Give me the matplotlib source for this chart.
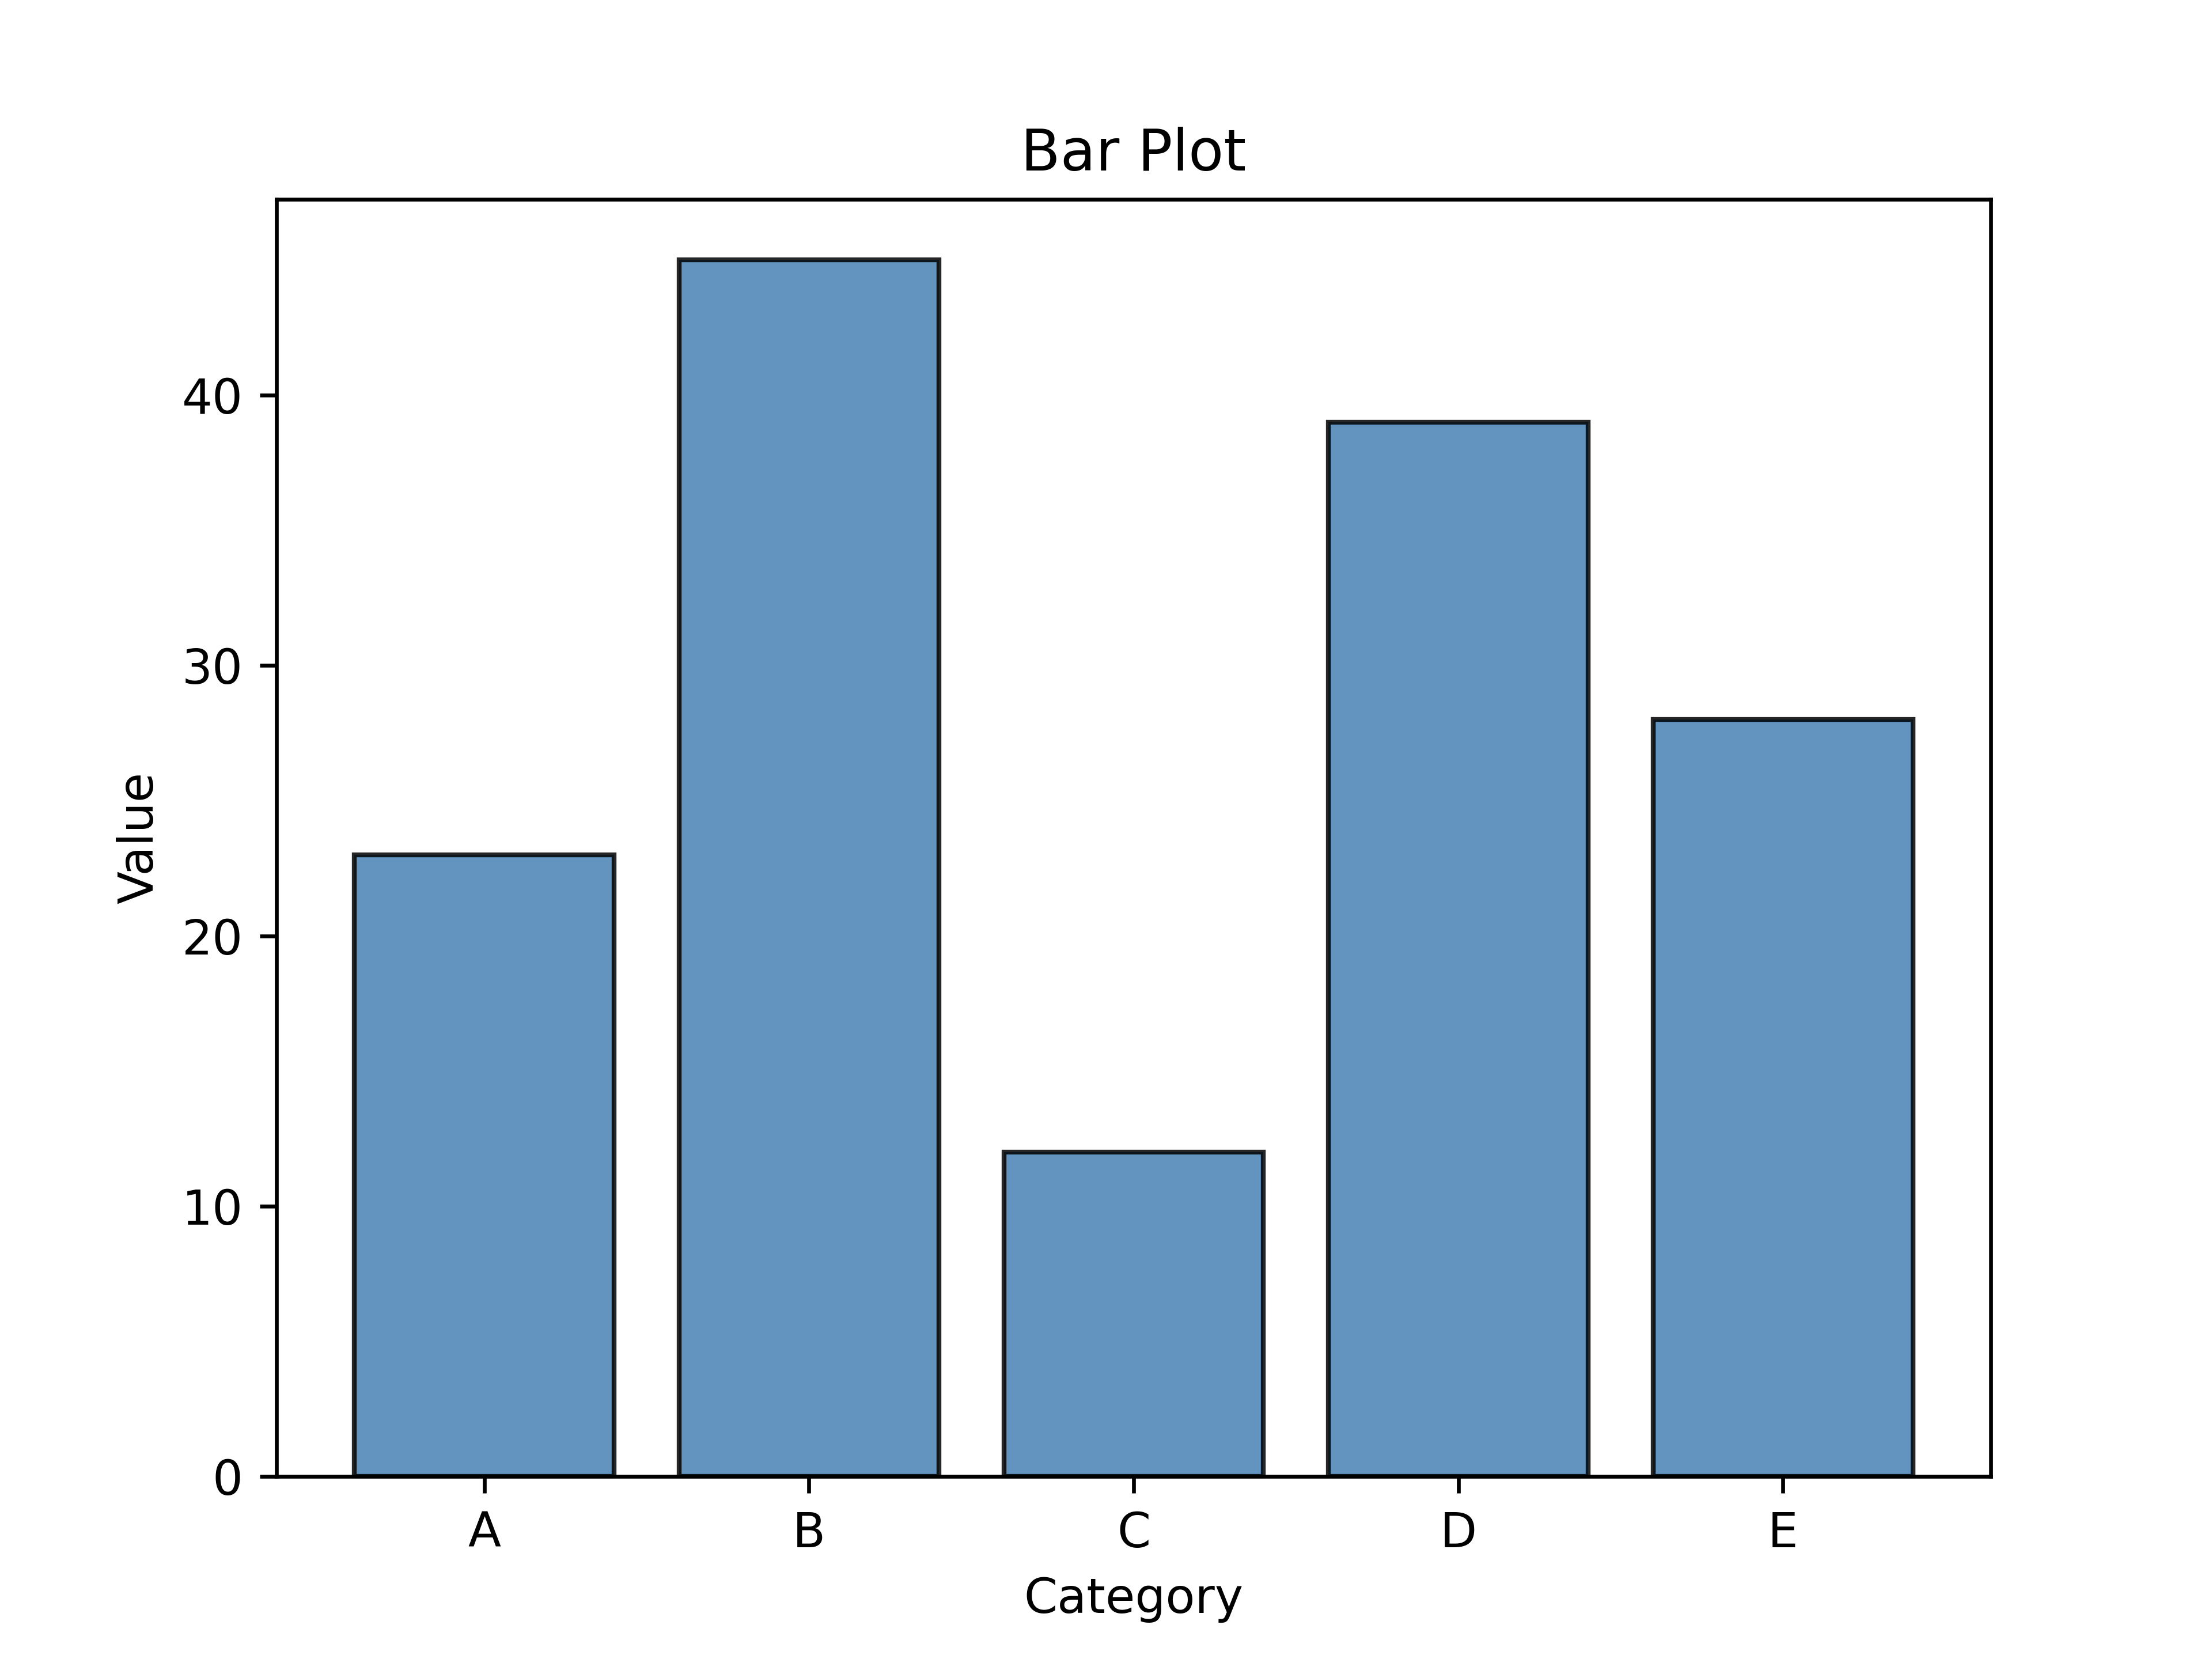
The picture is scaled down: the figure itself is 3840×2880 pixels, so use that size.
import matplotlib
matplotlib.use("Agg")
import matplotlib.pyplot as plt

categories = ["A", "B", "C", "D", "E"]
values = [23, 45, 12, 39, 28]

fig, ax = plt.subplots(figsize=(6.4, 4.8), dpi=600)
ax.bar(categories, values, color="steelblue", edgecolor="black", alpha=0.85)
ax.set_title("Bar Plot")
ax.set_xlabel("Category")
ax.set_ylabel("Value")
fig.savefig("out.png", dpi=600)
